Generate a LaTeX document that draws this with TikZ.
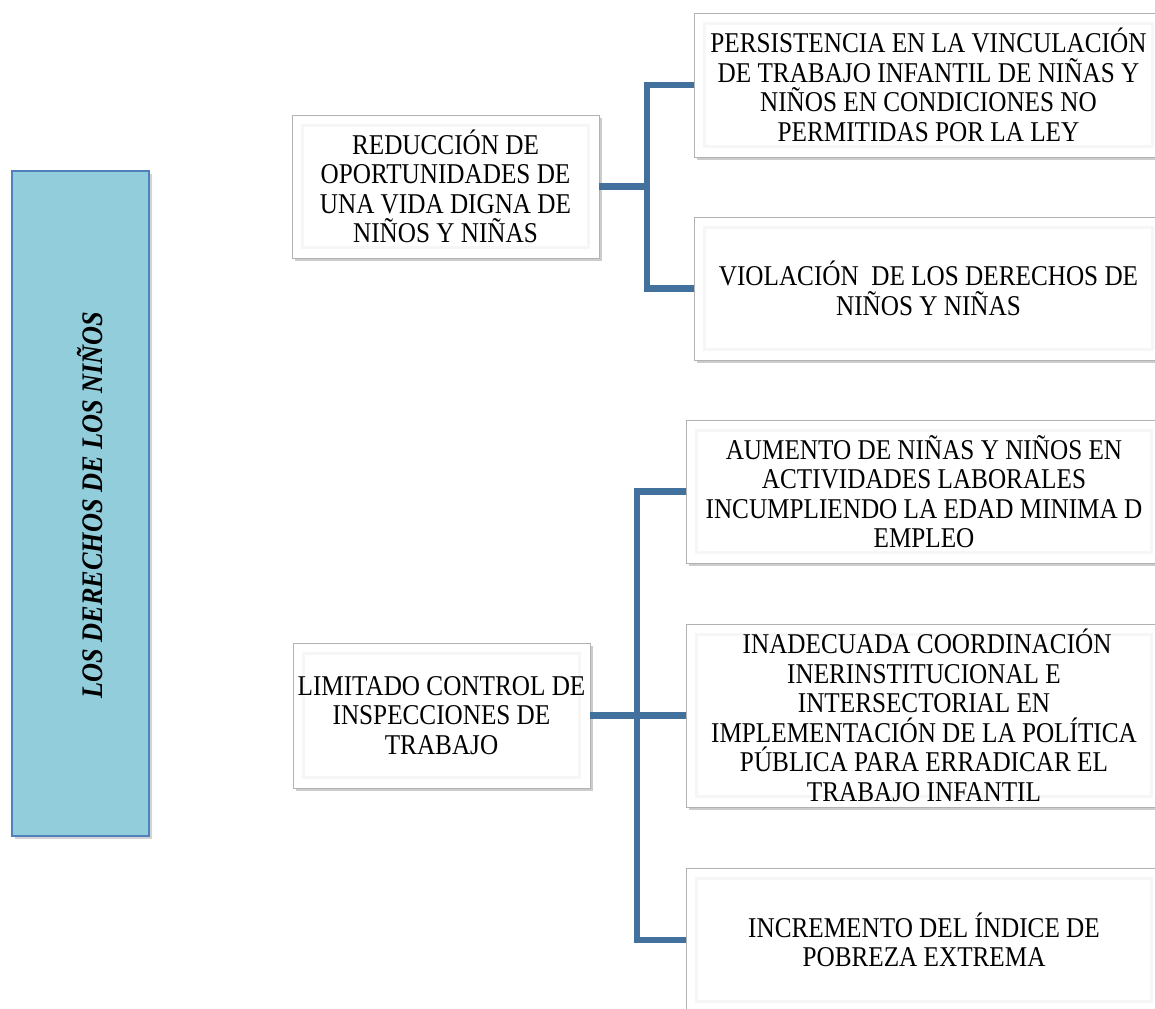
\documentclass[tikz,border=0pt]{standalone}
\usepackage{fontspec}
\setmainfont{Liberation Serif}[FakeStretch=0.88]
\usetikzlibrary{shadows}
\definecolor{celeste}{HTML}{92CDDC}
\definecolor{borde}{HTML}{4F81BD}
\definecolor{conector}{HTML}{41719C}
\tikzset{
  caja/.style={draw=gray!60, fill=white, align=center, inner sep=2pt,
    drop shadow={opacity=0.4, shadow xshift=1.5pt, shadow yshift=-1.5pt},
    font=\fontsize{16.3}{16.8}\selectfont,
    path picture={\draw[gray!7, line width=1.5pt]
      ([shift={(6pt,-6pt)}]path picture bounding box.north west) rectangle
      ([shift={(-6pt,6pt)}]path picture bounding box.south east);}},
  conex/.style={draw=conector, line width=3.6pt}
}
\begin{document}
\begin{tikzpicture}[x=0.02cm, y=-0.02cm]
\useasboundingbox (0,0) rectangle (1155,1008);
\clip (0,0) rectangle (1155,1008);
% titulo vertical
\node[draw=borde, fill=celeste, line width=1.2pt, minimum width=2.74cm, minimum height=13.3cm,
  drop shadow={opacity=0.35, shadow xshift=1.5pt, shadow yshift=-1.5pt}] (der) at (80.5,503.5) {};
\node[rotate=90, font=\fontsize{17}{20}\selectfont\bfseries\itshape] (derl) at (90,505) {LOS DERECHOS DE LOS NIÑOS};
% primera rama
\node[caja, minimum width=6.14cm, minimum height=2.86cm] (red) at (445.5,186.5)
  {REDUCCIÓN DE\\OPORTUNIDADES DE\\UNA VIDA DIGNA DE\\NIÑOS Y NIÑAS};
\node[caja, minimum width=9.38cm, minimum height=2.88cm] (per) at (928.5,85)
  {PERSISTENCIA EN LA VINCULACIÓN\\DE TRABAJO INFANTIL DE NIÑAS Y\\NIÑOS EN CONDICIONES NO\\PERMITIDAS POR LA LEY};
\node[caja, minimum width=9.38cm, minimum height=2.86cm] (vio) at (928.5,288.5)
  {VIOLACIÓN~ DE LOS DERECHOS DE\\NIÑOS Y NIÑAS};
% segunda rama
\node[caja, minimum width=5.94cm, minimum height=2.9cm] (lim) at (441.5,715.5)
  {LIMITADO CONTROL DE\\INSPECCIONES DE\\TRABAJO};
\node[caja, minimum width=9.52cm, minimum height=2.86cm] (aum) at (924,491.5)
  {AUMENTO DE NIÑAS Y NIÑOS EN\\ACTIVIDADES LABORALES\\INCUMPLIENDO LA EDAD MINIMA D\\EMPLEO};
\node[caja, minimum width=9.52cm, minimum height=3.66cm] (ina) at (924,715.5)
  {~INADECUADA COORDINACIÓN\\INERINSTITUCIONAL E\\INTERSECTORIAL EN\\IMPLEMENTACIÓN DE LA POLÍTICA\\PÚBLICA PARA ERRADICAR EL\\TRABAJO INFANTIL};
\node[caja, minimum width=9.52cm, minimum height=2.88cm] (inc) at (924,940)
  {INCREMENTO DEL ÍNDICE DE\\POBREZA EXTREMA};
% conectores
\draw[conex] (red.east) -- ++(48,0) coordinate (j1);
\draw[conex] (per.west) -| (j1) |- (vio.west);
\draw[conex] (lim.east) -- ++(47,0) coordinate (j2);
\draw[conex] (aum.west) -| (j2) |- (inc.west);
\draw[conex] (j2) -- (ina.west);
\end{tikzpicture}
\end{document}
